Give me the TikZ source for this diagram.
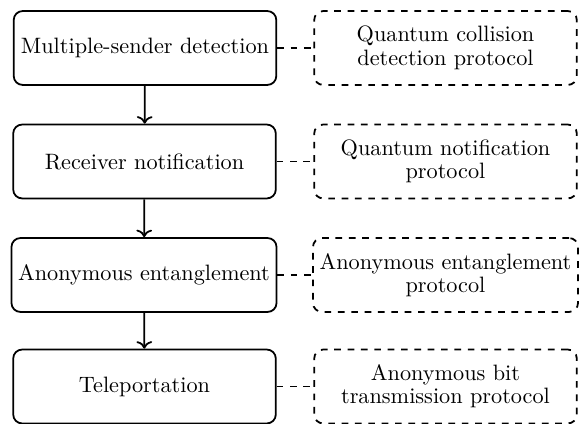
\documentclass[tikz,border=0pt]{standalone}
\usetikzlibrary{arrows.meta}
\begin{document}
\begin{tikzpicture}[x=0.4494pt,y=-0.4494pt,
  stagebox/.style={draw, line width=0.8pt, rounded corners=4pt, minimum width=118pt, minimum height=33.2pt, inner sep=3pt, align=center, font=\fontsize{10}{10.5}\selectfont},
  protobox/.style={stagebox, dashed},
  flow/.style={->, line width=0.8pt},
  link/.style={dashed, line width=0.8pt}]
\useasboundingbox (0,0) rectangle (579,424);
\node[stagebox] (s1) at (145,48) {Multiple-sender detection};
\node[stagebox] (s2) at (144.5,161.5) {Receiver notification};
\node[stagebox] (s3) at (144,275) {Anonymous entanglement};
\node[stagebox] (s4) at (144.5,386.5) {Teleportation};
\node[protobox] (p1) at (445.5,48) {Quantum collision\\detection protocol};
\node[protobox] (p2) at (445.5,161.5) {Quantum notification\\protocol};
\node[protobox] (p3) at (445.5,275) {Anonymous entanglement\\protocol};
\node[protobox] (p4) at (445.5,386.5) {Anonymous bit\\transmission protocol};
\draw[flow] (s1) -- (s2);
\draw[flow] (s2) -- (s3);
\draw[flow] (s3) -- (s4);
\draw[link] (s1) -- (p1);
\draw[link] (s2) -- (p2);
\draw[link] (s3) -- (p3);
\draw[link] (s4) -- (p4);
\end{tikzpicture}
\end{document}
